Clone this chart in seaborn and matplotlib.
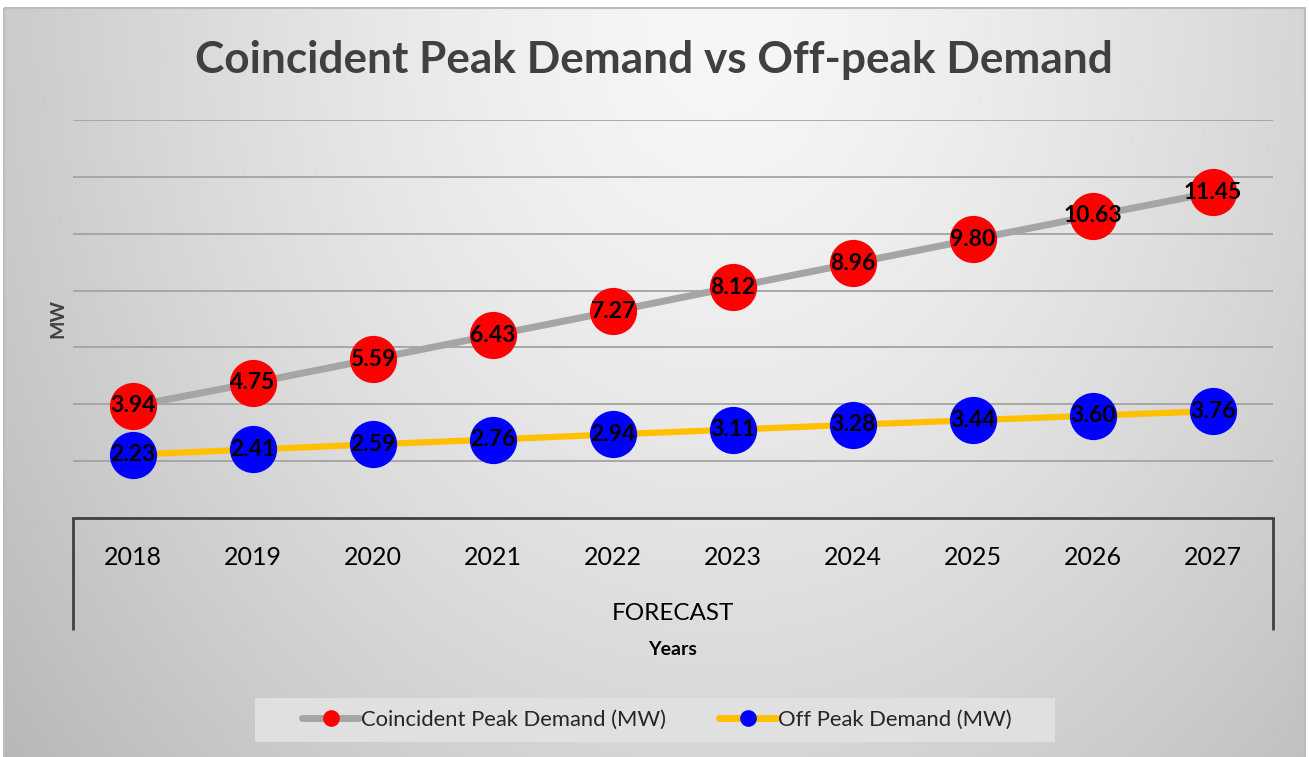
import numpy as np
import pandas as pd
import matplotlib
matplotlib.use("Agg")
import matplotlib.pyplot as plt
from matplotlib.lines import Line2D
from matplotlib.patches import Rectangle
import seaborn as sns

# data
years = ["2018", "2019", "2020", "2021", "2022", "2023", "2024", "2025", "2026", "2027"]
peak_mw = [3.94, 4.75, 5.59, 6.43, 7.27, 8.12, 8.96, 9.80, 10.63, 11.45]
offpeak_mw = [2.23, 2.41, 2.59, 2.76, 2.94, 3.11, 3.28, 3.44, 3.60, 3.76]
peak_name = "Coincident Peak Demand (MW)"
offpeak_name = "Off Peak Demand (MW)"

df = pd.DataFrame({"year": years, "peak": peak_mw, "offpeak": offpeak_mw})

sns.set_style("white")
plt.rcParams["font.family"] = ["Lato", "DejaVu Sans"]

W, H = 1309, 757
fig = plt.figure(figsize=(W / 100, H / 100), dpi=100)
fig.patch.set_facecolor("white")

# background gradient (chart area), like the Excel style
bg = fig.add_axes([0, 0, 1, 1], zorder=-10)
yy, xx = np.mgrid[0:H, 0:W]
r = np.sqrt(((xx - 720) / 780.0) ** 2 + ((yy - 20) / 980.0) ** 2)
val = 247 - 50 * np.clip(r, 0, 1.3) ** 1.4
img = np.dstack([val, val, val]) / 255.0
inside = (xx >= 4) & (yy >= 8) & (xx <= 1305)
img[~inside] = 1.0
bg.imshow(img, extent=[0, W, H, 0], aspect="auto", interpolation="bilinear")
bg.add_patch(Rectangle((4, 8), 1301, 760, fill=False, edgecolor="#bdbdbd", lw=1.5))
# legend panel
bg.add_patch(Rectangle((255, 698), 800, 44, facecolor="#e0e0e0", edgecolor="none"))
bg.set_xlim(0, W)
bg.set_ylim(H, 0)
bg.axis("off")

ax = fig.add_axes([73 / W, 1 - 518 / H, 1200 / W, 398 / H])
ax.set_facecolor("none")

sns.lineplot(data=df, x="year", y="peak", ax=ax, color="#a5a5a5", lw=5,
             marker="o", markersize=34, markerfacecolor="#ff0000",
             markeredgewidth=0, sort=False, zorder=3)
sns.lineplot(data=df, x="year", y="offpeak", ax=ax, color="#ffc000", lw=4.5,
             marker="o", markersize=34, markerfacecolor="#0000ff",
             markeredgewidth=0, sort=False, zorder=3)

for i, (p, o) in enumerate(zip(peak_mw, offpeak_mw)):
    ax.text(i, p, f"{p:.2f}", ha="center", va="center", fontsize=16.5,
            fontweight="bold", color="black", zorder=5)
    ax.text(i, o, f"{o:.2f}", ha="center", va="center", fontsize=16.5,
            fontweight="bold", color="black", zorder=5)

ax.set_ylim(0, 14)
ax.set_xlim(-0.5, len(years) - 0.5)
ax.set_yticks(np.arange(2, 15, 2))
ax.yaxis.grid(True, color="#a3a3a3", lw=1.3)
ax.set_axisbelow(True)
ax.tick_params(axis="y", left=False, labelleft=False)
ax.tick_params(axis="x", length=0, pad=20, labelsize=18, labelcolor="black")
for s in ["top", "right", "left"]:
    ax.spines[s].set_visible(False)
ax.spines["bottom"].set_color("#404040")
ax.spines["bottom"].set_linewidth(2)

# group box of the multi-level category axis
drop = 112 / 398
for xpos in (0, 1):
    ax.plot([xpos, xpos], [0, -drop], transform=ax.transAxes, color="#404040",
            lw=2, clip_on=False, solid_capstyle="butt")
ax.text(0.5, -95 / 398, "FORECAST", transform=ax.transAxes, ha="center",
        va="center", fontsize=17.5, color="black")

ax.set_xlabel("Years", fontsize=14, fontweight="bold", color="black", labelpad=52)
ax.set_ylabel("MW", fontsize=14, fontweight="bold", color="#404040", labelpad=5)

fig.text(654 / W, 1 - 60 / H, "Coincident Peak Demand vs Off-peak Demand",
         ha="center", va="center", fontsize=31.8, fontweight="bold", color="#404040")

handles = [
    Line2D([], [], color="#a5a5a5", lw=5, marker="o", markersize=12,
           markerfacecolor="#ff0000", markeredgewidth=0),
    Line2D([], [], color="#ffc000", lw=5, marker="o", markersize=12,
           markerfacecolor="#0000ff", markeredgewidth=0),
]
leg = fig.legend(handles, [peak_name, offpeak_name], loc="center",
                 bbox_to_anchor=(657 / W, 1 - 720 / H), ncol=2, fontsize=15.8,
                 frameon=False, handlelength=2.6, handletextpad=0.1,
                 columnspacing=2.4)

fig.savefig("out.png", dpi=100)
